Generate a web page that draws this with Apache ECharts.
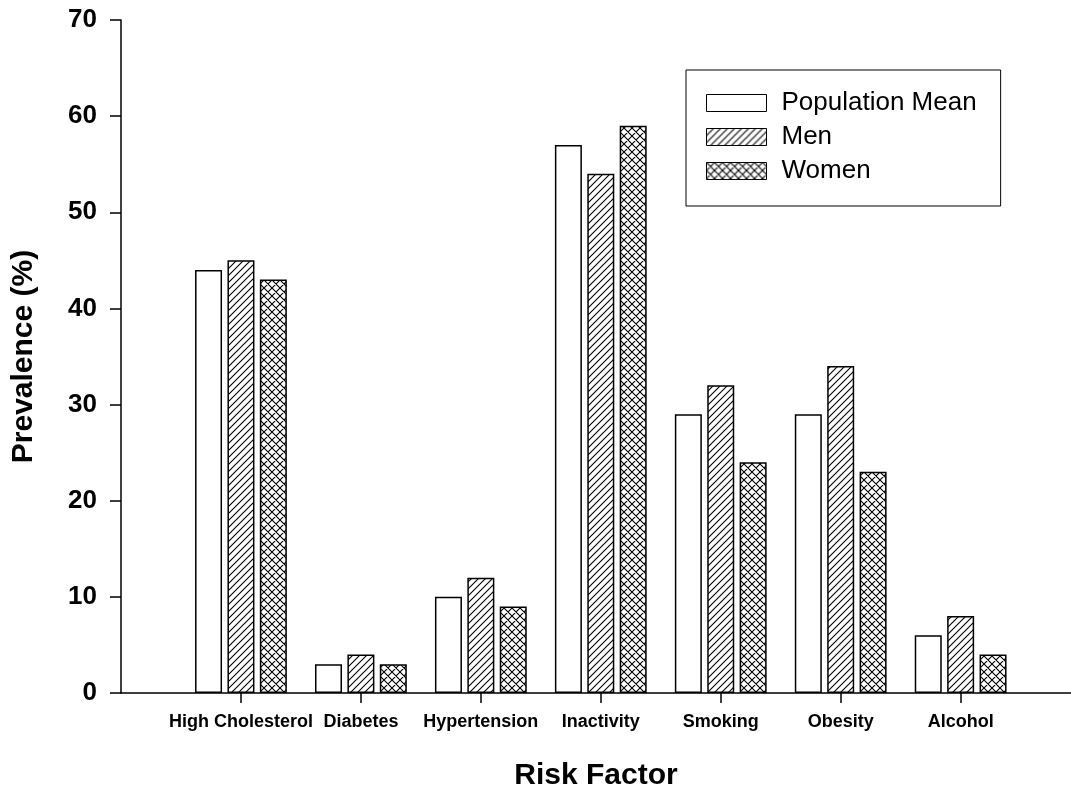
<!DOCTYPE html>
<html>
<head>
<meta charset="utf-8">
<script src="https://cdn.jsdelivr.net/npm/echarts@6/dist/echarts.min.js"></script>
<style>
html,body{margin:0;padding:0;background:#fff;}
#chart{width:1071px;height:790px;}
</style>
</head>
<body>
<div id="chart"></div>
<script>
const categories = ['High Cholesterol', 'Diabetes', 'Hypertension', 'Inactivity', 'Smoking', 'Obesity', 'Alcohol'];
const populationMean = [44, 3, 10, 57, 29, 29, 6];
const men = [45, 4, 12, 54, 32, 34, 8];
const women = [43, 3, 9, 59, 24, 23, 4];
const yTicks = [0, 10, 20, 30, 40, 50, 60, 70];

const FONT = '"Liberation Sans", Arial, Helvetica, sans-serif';

function hatchPattern(size, both) {
  const c = document.createElement('canvas');
  c.width = size; c.height = size;
  const g = c.getContext('2d');
  g.fillStyle = '#fff';
  g.fillRect(0, 0, size, size);
  g.strokeStyle = '#000';
  g.lineWidth = 1.1;
  g.beginPath();
  g.moveTo(-1, size + 1); g.lineTo(size + 1, -1);
  g.moveTo(-1, 1); g.lineTo(1, -1);
  g.moveTo(size - 1, size + 1); g.lineTo(size + 1, size - 1);
  if (both) {
    g.moveTo(-1, -1); g.lineTo(size + 1, size + 1);
    g.moveTo(size - 1, -1); g.lineTo(size + 1, 1);
    g.moveTo(-1, size - 1); g.lineTo(1, size + 1);
  }
  g.stroke();
  return { image: c, repeat: 'repeat' };
}

const toPairs = arr => arr.map((v, i) => [i + 1, v]);
const positions = categories.map((_, i) => i + 1);

const barStyle = { borderColor: '#000', borderWidth: 1.5 };

const chart = echarts.init(document.getElementById('chart'), null, { renderer: 'canvas' });
chart.setOption({
  backgroundColor: '#fff',
  animation: false,
  textStyle: { fontFamily: FONT },
  grid: { left: 121, right: 0, top: 20, bottom: 97, containLabel: false, outerBoundsMode: 'none' },
  legend: {
    orient: 'vertical',
    left: 686, top: 70,
    padding: [20, 24, 22, 20],
    itemWidth: 60, itemHeight: 17, itemGap: 8,
    borderColor: '#000', borderWidth: 1,
    icon: 'rect',
    itemStyle: { borderColor: '#000', borderWidth: 1 },
    textStyle: { fontFamily: FONT, fontSize: 26, color: '#000', padding: [0, 0, 0, 10] },
    data: ['Population Mean', 'Men', 'Women']
  },
  xAxis: {
    type: 'value',
    min: 0, max: 7.92, interval: 1,
    name: 'Risk Factor',
    nameLocation: 'middle', nameGap: 68,
    nameTextStyle: { fontFamily: FONT, fontSize: 30, fontWeight: 'bold', color: '#000' },
    axisLine: { show: true, onZero: false, lineStyle: { color: '#000', width: 1.5 } },
    axisTick: { show: true, inside: false, length: 10, customValues: positions, lineStyle: { color: '#000', width: 1.5 } },
    axisLabel: {
      customValues: positions,
      formatter: v => categories[Math.round(v) - 1] || '',
      fontFamily: FONT, fontSize: 18, fontWeight: 'bold', color: '#000', margin: 20
    },
    splitLine: { show: false }
  },
  yAxis: {
    type: 'value',
    min: 0, max: 70, interval: 10,
    name: 'Prevalence (%)',
    nameLocation: 'middle', nameGap: 82,
    nameTextStyle: { fontFamily: FONT, fontSize: 30, fontWeight: 'bold', color: '#000' },
    axisLine: { show: true, lineStyle: { color: '#000', width: 1.5 } },
    axisTick: { show: true, inside: false, length: 11, customValues: yTicks, lineStyle: { color: '#000', width: 1.5 } },
    axisLabel: { customValues: yTicks, fontFamily: FONT, fontSize: 26, fontWeight: 'bold', color: '#000', margin: 24 },
    splitLine: { show: false }
  },
  series: [
    { name: 'Population Mean', type: 'bar', barWidth: 27, barGap: '20%', data: toPairs(populationMean),
      itemStyle: Object.assign({ color: '#fff' }, barStyle) },
    { name: 'Men', type: 'bar', barWidth: 27, barGap: '20%', data: toPairs(men),
      itemStyle: Object.assign({ color: hatchPattern(7, false) }, barStyle) },
    { name: 'Women', type: 'bar', barWidth: 27, barGap: '20%', data: toPairs(women),
      itemStyle: Object.assign({ color: hatchPattern(8, true) }, barStyle) }
  ]
});
</script>
</body>
</html>
